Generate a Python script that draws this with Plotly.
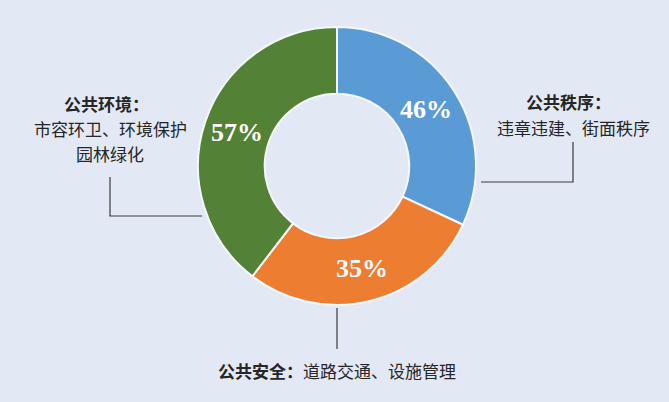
import plotly.graph_objects as go

categories = ["公共秩序", "公共安全", "公共环境"]
shares = [115, 102.5, 142.5]
pct_labels = ["46%", "35%", "57%"]
colors = ["#5b9bd5", "#ed7d31", "#538135"]

W, H = 669, 402
cx, cy, r = 337, 166, 139


def px(x):
    return x / W


def py(y):
    return 1 - y / H


fig = go.Figure()
fig.add_trace(go.Pie(
    labels=categories,
    values=shares,
    text=pct_labels,
    textinfo="text",
    textposition="inside",
    insidetextorientation="horizontal",
    hole=0.52,
    sort=False,
    direction="clockwise",
    rotation=0,
    marker=dict(colors=colors, line=dict(color="#f4f7fb", width=2)),
    textfont=dict(family="Liberation Serif", size=26, color="white", weight="bold"),
    domain=dict(x=[px(cx - r), px(cx + r)], y=[py(cy + r), py(cy - r)]),
    showlegend=False,
    hoverinfo="label+text",
))

line_col = "#3a3a3a"
leaders = [
    [(110, 177), (110, 216), (202, 216)],
    [(573, 142), (573, 182), (481, 182)],
    [(337, 308), (337, 349)],
]
for pts in leaders:
    path = "M " + " L ".join(f"{px(x)},{py(y)}" for x, y in pts)
    fig.add_shape(type="path", path=path, xref="paper", yref="paper",
                  line=dict(color=line_col, width=1.2))

font = dict(family="Noto Sans CJK SC", size=17, color="#262626")
notes = [
    (106, 103, "<b>公共环境：</b>"),
    (110, 128, "市容环卫、环境保护"),
    (110, 153, "园林绿化"),
    (568, 101, "<b>公共秩序：</b>"),
    (573, 127, "违章违建、街面秩序"),
    (337, 370, "<b>公共安全：</b>道路交通、设施管理"),
]
for x, y, t in notes:
    fig.add_annotation(x=px(x), y=py(y), xref="paper", yref="paper", text=t,
                       showarrow=False, font=font, xanchor="center", yanchor="middle")

fig.update_layout(
    width=W, height=H,
    margin=dict(l=0, r=0, t=0, b=0),
    paper_bgcolor="#e3e9f4",
    plot_bgcolor="#e3e9f4",
)

fig.write_html("out.html", config={"displayModeBar": False},
               post_script="document.body.style.margin='0';")
